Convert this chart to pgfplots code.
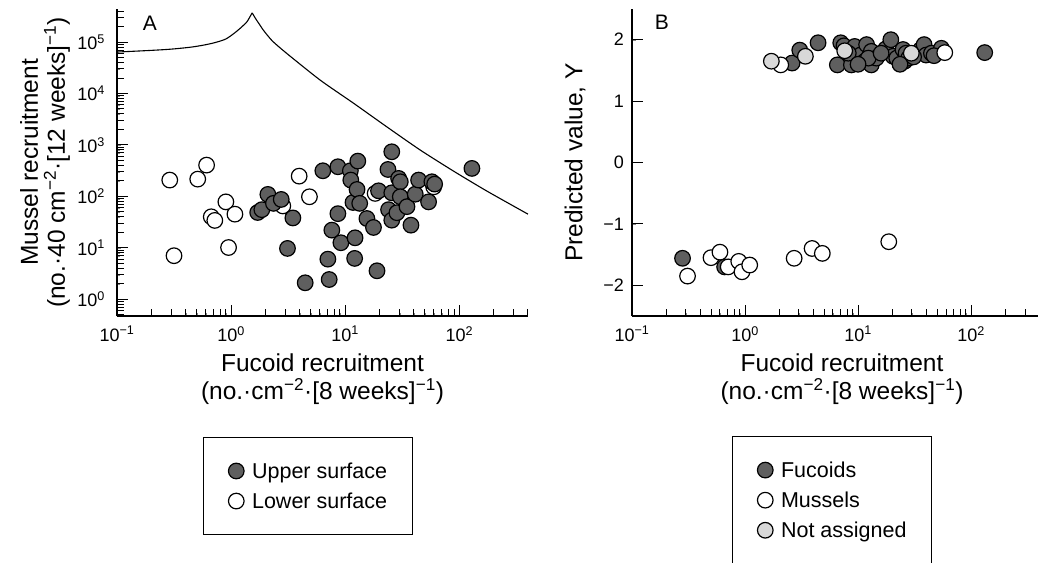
\documentclass[border=0pt]{standalone}
\usepackage{fontspec}
\setmainfont{Liberation Sans}
\usepackage{pgfplots}
\pgfplotsset{compat=1.18}
\definecolor{darkfill}{RGB}{95,95,95}
\definecolor{lightfill}{RGB}{216,216,216}
\pgfplotsset{
  myaxisstyle/.style={
    scale only axis,
    axis lines=left, axis line style={-, line width=1.1pt},
    tick align=inside,
    clip=false,
    xmin=0.1,
    xtick={0.1,1,10,100},
    xticklabels={10\textsuperscript{−1},10\textsuperscript{0},10\textsuperscript{1},10\textsuperscript{2}},
    xticklabel style={font=\fontsize{18}{21}\selectfont, inner sep=0pt, yshift=-10pt},
    yticklabel style={font=\fontsize{18}{21}\selectfont, inner sep=0pt},
    every axis x label/.style={at={(axis description cs:0.5,0)}, anchor=north, yshift=-38pt,
      align=center, inner sep=0pt, font=\fontsize{24.5}{28}\selectfont},
    every axis y label/.style={rotate=90, anchor=south,
      align=center, inner sep=0pt, font=\fontsize{24.5}{27}\selectfont},
    xlabel={Fucoid recruitment\\(no.·cm\textsuperscript{−2}·[8 weeks]\textsuperscript{−1})},
    legend cell align=left,
    legend style={anchor=north west, draw=black, line width=1pt,
      inner xsep=25pt, inner ysep=25pt, row sep=13pt,
      font=\fontsize{21.5}{25}\selectfont,
      nodes={inner sep=0pt},
      /tikz/every odd column/.append style={column sep=8pt}},
  },
}
\begin{document}
\begin{tikzpicture}
% ---------------- Panel A ----------------
\begin{axis}[myaxisstyle, xmode=log,
  at={(117pt,-316pt)}, anchor=south west,
  width=411pt, height=307pt,
  xmax=400,
  ymode=log, ymin=0.47, ymax=4.4e5,
  ytick={1,10,100,1000,10000,100000},
  yticklabels={10\textsuperscript{0},10\textsuperscript{1},10\textsuperscript{2},10\textsuperscript{3},10\textsuperscript{4},10\textsuperscript{5}},
  yticklabel style={xshift=-12pt},
  ylabel={Mussel recruitment\\(no.·40 cm\textsuperscript{−2}·[12 weeks]\textsuperscript{−1})},
  ylabel style={at={(axis description cs:-0.114,0.5)}},
  reverse legend,
  legend style={at={(0.2092,-0.394)}},
]
% tick marks (inside)
\pgfplotsinvokeforeach{0.1,1,10,100}{\draw[black, line width=1pt] (axis cs:#1,0.47) -- (axis cs:#1,0.77);}
\pgfplotsinvokeforeach{0.2,0.3,0.4,0.5,0.6,0.7,0.8,0.9,2,3,4,5,6,7,8,9,20,30,40,50,60,70,80,90,200,300,400}{\draw[black, line width=1pt] (axis cs:#1,0.47) -- (axis cs:#1,0.64);}
\pgfplotsinvokeforeach{1,10,100,1000,10000,100000}{\draw[black, line width=1pt] (axis cs:0.1,#1) -- (axis cs:0.125,#1);}
\pgfplotsinvokeforeach{0.5,0.6,0.7,0.8,0.9,2,3,4,5,6,7,8,9,20,30,40,50,60,70,80,90,200,300,400,500,600,700,800,900,2000,3000,4000,5000,6000,7000,8000,9000,20000,30000,40000,50000,60000,70000,80000,90000,200000,300000,400000}{\draw[black, line width=1pt] (axis cs:0.1,#1) -- (axis cs:0.115,#1);}
\addplot[black, line width=1.1pt, smooth, tension=0.5, forget plot] coordinates {
(0.1,6.4e4) (0.2,6.9e4) (0.3,7.3e4) (0.45,8.0e4) (0.6,8.9e4) (0.75,1.0e5)
(0.9,1.15e5) (1.05,1.45e5) (1.2,1.85e5) (1.37,2.45e5) (1.45,3.0e5) (1.53,3.7e5)
};
\addplot[black, line width=1.1pt, smooth, tension=0.4, forget plot] coordinates {
(1.53,3.7e5) (1.65,2.8e5) (1.8,2.1e5) (1.92,1.7e5) (2.3,1.05e5) (3.08,6.0e4)
(6.04,1.82e4) (11.8,6.5e3) (23.2,2.24e3) (45.5,794) (89.1,309) (175,126) (400,45)
};
\addplot[only marks, mark=*, mark size=7.8pt, mark options={fill=white, draw=black, line width=1.2pt}] coordinates {
(0.29,207) (0.316,7.0) (0.51,216) (0.61,405) (0.67,40) (0.72,34) (0.90,78)
(1.08,45) (0.95,10.1) (3.95,247) (4.86,98) (2.84,65) (18.3,114) (59.6,153)
};
\addplot[only marks, mark=*, mark size=7.8pt, mark options={fill=darkfill, draw=black, line width=1.2pt}] coordinates {
(1.71,48.5) (1.86,55) (2.10,109) (2.35,73) (2.75,87) (3.48,38) (3.12,9.7)
(4.46,2.08) (6.37,314) (7.05,6.0) (7.24,2.41) (7.64,22) (8.63,46) (8.63,376)
(9.17,12.5) (11.1,314) (11.2,207) (11.7,76) (12.1,6.2) (12.2,15.6) (12.9,484)
(12.7,136) (13.4,73) (15.5,37) (17.7,24.8) (19.6,128) (19.0,3.56) (23.7,333)
(25.6,735) (25.6,117) (24.0,55) (25.6,34.4) (29.4,223) (30.4,192) (30.4,98)
(28.4,48) (34.8,63) (37.7,27.5) (41.1,110) (44.0,207) (53.8,78) (57.5,192)
(60.8,173) (129,349)
};
\legend{Lower surface, Upper surface}
\node[font=\fontsize{21}{24}\selectfont] at (rel axis cs:0.08,0.954) {A};
\end{axis}
% ---------------- Panel B ----------------
\begin{axis}[myaxisstyle, xmode=log,
  at={(632pt,-316pt)}, anchor=south west,
  width=420pt, height=307pt,
  xmax=520,
  ymin=-2.5, ymax=2.5,
  ytick={-2,-1,0,1,2},
  yticklabels={−2,−1,0,1,2},
  yticklabel style={xshift=-8pt},
  ylabel={Predicted value, Y},
  ylabel style={at={(axis description cs:-0.11,0.5)}},
  legend style={at={(0.238,-0.391)}},
]
% tick marks (inside)
\pgfplotsinvokeforeach{0.1,1,10,100}{\draw[black, line width=1pt] (axis cs:#1,-2.5) -- (axis cs:#1,-2.32);}
\pgfplotsinvokeforeach{0.2,0.3,0.4,0.5,0.6,0.7,0.8,0.9,2,3,4,5,6,7,8,9,20,30,40,50,60,70,80,90,200,300,400,500}{\draw[black, line width=1pt] (axis cs:#1,-2.5) -- (axis cs:#1,-2.386);}
\pgfplotsinvokeforeach{-2,-1,0,1,2}{\draw[black, line width=1pt] (axis cs:0.1,#1) -- (axis cs:0.125,#1);}
\addplot[only marks, mark=*, mark size=7.8pt, mark options={fill=darkfill, draw=black, line width=1.2pt}] coordinates {
(0.28,-1.56) (0.66,-1.70)
(2.61,1.62) (3.05,1.83) (4.43,1.95) (6.56,1.59) (7.03,1.95) (7.5,1.90) (8.73,1.59)
(9.34,1.89) (10.5,1.75) (11.5,1.65) (11.9,1.92) (13.1,1.59) (13.1,1.81) (14.5,1.70)
(17.6,1.85) (19.5,2.00) (20.4,1.73) (22,1.70) (25.0,1.84) (25.9,1.65) (26.6,1.78)
(28,1.70) (32.8,1.78) (35.9,1.84) (38.4,1.92) (40,1.75) (44.6,1.78) (54.6,1.86)
(8.2,1.78) (12.3,1.70) (16,1.78) (23.5,1.60) (31,1.72) (47,1.74) (10,1.60)
(132,1.79)
};
\addplot[only marks, mark=*, mark size=7.8pt, mark options={fill=white, draw=black, line width=1.2pt}] coordinates {
(0.31,-1.85) (0.50,-1.55) (0.60,-1.46) (0.71,-1.70) (0.88,-1.61) (0.94,-1.78)
(1.10,-1.67) (2.72,-1.56) (3.92,-1.40) (4.83,-1.48) (18.7,-1.29)
(2.07,1.59) (58.5,1.79)
};
\addplot[only marks, mark=*, mark size=7.8pt, mark options={fill=lightfill, draw=black, line width=1.2pt}] coordinates {
(1.71,1.65) (3.42,1.73) (7.62,1.82) (29.6,1.78)
};
\legend{Fucoids, Mussels, Not assigned}
\node[font=\fontsize{21}{24}\selectfont] at (rel axis cs:0.071,0.957) {B};
\end{axis}
\pgfresetboundingbox
\useasboundingbox (0pt,0pt) rectangle (1038pt,-562pt);
\end{tikzpicture}
\end{document}
